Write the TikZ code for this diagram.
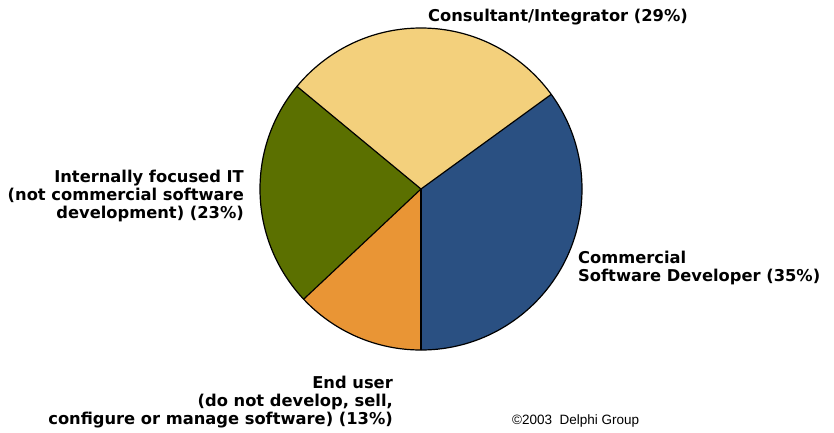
\documentclass[tikz,border=0pt]{standalone}
\usepackage{fontspec}
\setmainfont{DejaVu Sans}
\newfontfamily\copyfont{Liberation Sans}
\definecolor{cblue}{HTML}{2A5082}
\definecolor{cyellow}{HTML}{F3D07C}
\definecolor{colive}{HTML}{5B7000}
\definecolor{corange}{HTML}{E99535}
\begin{document}
\begin{tikzpicture}[x=1pt,y=-1pt,
  slice/.style={draw=black,line width=1.2pt,line join=round},
  lbl/.style={inner sep=0pt,font=\fontsize{16.3}{18}\selectfont\bfseries,align=#1},
  lbl/.default=left]
\useasboundingbox (0,0) rectangle (834,432);
\coordinate (c) at (421,189);
\def\R{161}
\fill[cblue] (c) -- ++(90:\R) arc[start angle=90,end angle=-36,radius=\R] -- cycle;
\fill[cyellow] (c) -- ++(-36:\R) arc[start angle=-36,end angle=-140.4,radius=\R] -- cycle;
\fill[colive] (c) -- ++(-140.4:\R) arc[start angle=-140.4,end angle=-223.2,radius=\R] -- cycle;
\fill[corange] (c) -- ++(-223.2:\R) arc[start angle=-223.2,end angle=-270,radius=\R] -- cycle;
\draw[slice] (c) circle[radius=\R];
\draw[slice] (c) -- ++(90:\R);
\draw[slice] (c) -- ++(-36:\R);
\draw[slice] (c) -- ++(-140.4:\R);
\draw[slice] (c) -- ++(-223.2:\R);
% labels (base anchor = baseline of the last line)
\node[lbl=left,anchor=base west] (cons) at (428,21) {Consultant/Integrator (29\%)};
\node[lbl=right,anchor=base east] (intl) at (244,218) {Internally focused IT\\(not commercial software\\development) (23\%)};
\node[lbl=left,anchor=base west] (comm) at (578,281) {Commercial\\Software Developer (35\%)};
\node[lbl=right,anchor=base east] (endu) at (393,424) {End user\\(do not develop, sell,\\configure or manage software) (13\%)};
\node[inner sep=0pt,anchor=base west,font=\copyfont\fontsize{13.5}{15}\selectfont] (copy) at (512,424) {\textcopyright2003\ \ Delphi Group};
\end{tikzpicture}
\end{document}
